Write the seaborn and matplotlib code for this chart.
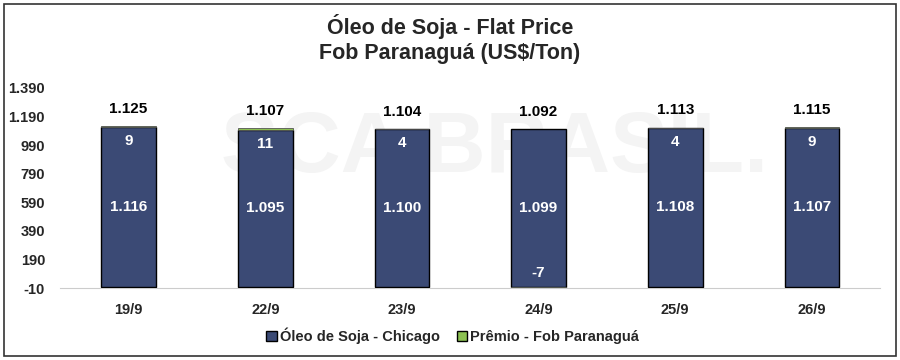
import matplotlib
matplotlib.use('Agg')
import matplotlib.pyplot as plt
import matplotlib.patches as mpatches
import seaborn as sns
import pandas as pd
import numpy as np

dates = ['19/9', '22/9', '23/9', '24/9', '25/9', '26/9']
chicago = [1116, 1095, 1100, 1099, 1108, 1107]
premio = [9, 11, 4, -7, 4, 9]
totals = [1125, 1107, 1104, 1092, 1113, 1115]


def br(v):
    return f'{v:,.0f}'.replace(',', '.')


df = pd.DataFrame({'date': dates, 'chicago': chicago, 'premio': premio})
df['base'] = [c if p >= 0 else 0 for c, p in zip(chicago, premio)]

sns.set_style('white')
plt.rcParams['font.family'] = ['Liberation Sans', 'DejaVu Sans']

navy = '#3b4a75'
green = '#8cc152'

fig = plt.figure(figsize=(9, 3.6), dpi=100)
ax = fig.add_axes([0.067, 0.2, 0.911, 0.556])

# faint watermark behind the bars
ax.text(0.53, 0.69, 'SCA BRASIL.', transform=ax.transAxes, ha='center', va='center',
        fontsize=62, fontweight='bold', color='#f4f4f4', zorder=0)

sns.barplot(x='date', y='chicago', data=df, color=navy, width=0.4, saturation=1,
            edgecolor='black', linewidth=1, ax=ax, zorder=3)
ax.bar(range(len(dates)), df['premio'], bottom=df['base'], width=0.4, color=green,
       edgecolor='#555555', linewidth=0.6, zorder=3)

for i in range(len(dates)):
    ax.text(i, chicago[i] / 2, br(chicago[i]), ha='center', va='center', color='white',
            fontsize=11, fontweight='bold', zorder=5)
    if premio[i] >= 0:
        ax.text(i, chicago[i] - 95, br(premio[i]), ha='center', va='center', color='white',
                fontsize=11, fontweight='bold', zorder=5)
    else:
        ax.text(i, 95, br(premio[i]), ha='center', va='center', color='white',
                fontsize=11, fontweight='bold', zorder=5)
    ax.text(i, chicago[i] + max(premio[i], 0) + 120, br(totals[i]), ha='center', va='center',
            color='black', fontsize=11, fontweight='bold', zorder=5)

ax.set_ylim(-10, 1390)
ax.set_xlim(-0.5, len(dates) - 0.5)
yt = np.arange(-10, 1391, 200)
ax.set_yticks(yt)
ax.set_yticklabels([br(v) for v in yt], fontsize=10.5, fontweight='bold')
ax.set_xticklabels(dates, fontsize=10.5, fontweight='bold')
ax.tick_params(axis='x', length=0, pad=11)
ax.tick_params(axis='y', length=0, pad=11)
ax.set_xticks(np.arange(-0.5, len(dates), 1), minor=True)
ax.tick_params(axis='x', which='minor', length=4, color='#cccccc', direction='out')
ax.set_xlabel('')
ax.set_ylabel('')
for s in ['left', 'right', 'top']:
    ax.spines[s].set_visible(False)
ax.spines['bottom'].set_color('#cccccc')

fig.text(0.5, 0.927, 'Óleo de Soja - Flat Price', ha='center', va='center',
         fontsize=15.5, fontweight='bold')
fig.text(0.5, 0.85, 'Fob Paranaguá (US$/Ton)', ha='center', va='center',
         fontsize=15.5, fontweight='bold')

handles = [mpatches.Patch(facecolor=navy, edgecolor='black', label='Óleo de Soja - Chicago'),
           mpatches.Patch(facecolor=green, edgecolor='black', label='Prêmio - Fob Paranaguá')]
fig.legend(handles=handles, loc='center', bbox_to_anchor=(0.503, 0.066), ncol=2, frameon=False,
           prop={'size': 10.5, 'weight': 'bold'}, handlelength=0.7, handleheight=0.7,
           handletextpad=0.2, columnspacing=1.2)

fig.patches.append(mpatches.Rectangle((0.004, 0.012), 0.991, 0.978, transform=fig.transFigure,
                                      fill=False, edgecolor='#333333', linewidth=1.2))

fig.savefig('out.png', dpi=100)
